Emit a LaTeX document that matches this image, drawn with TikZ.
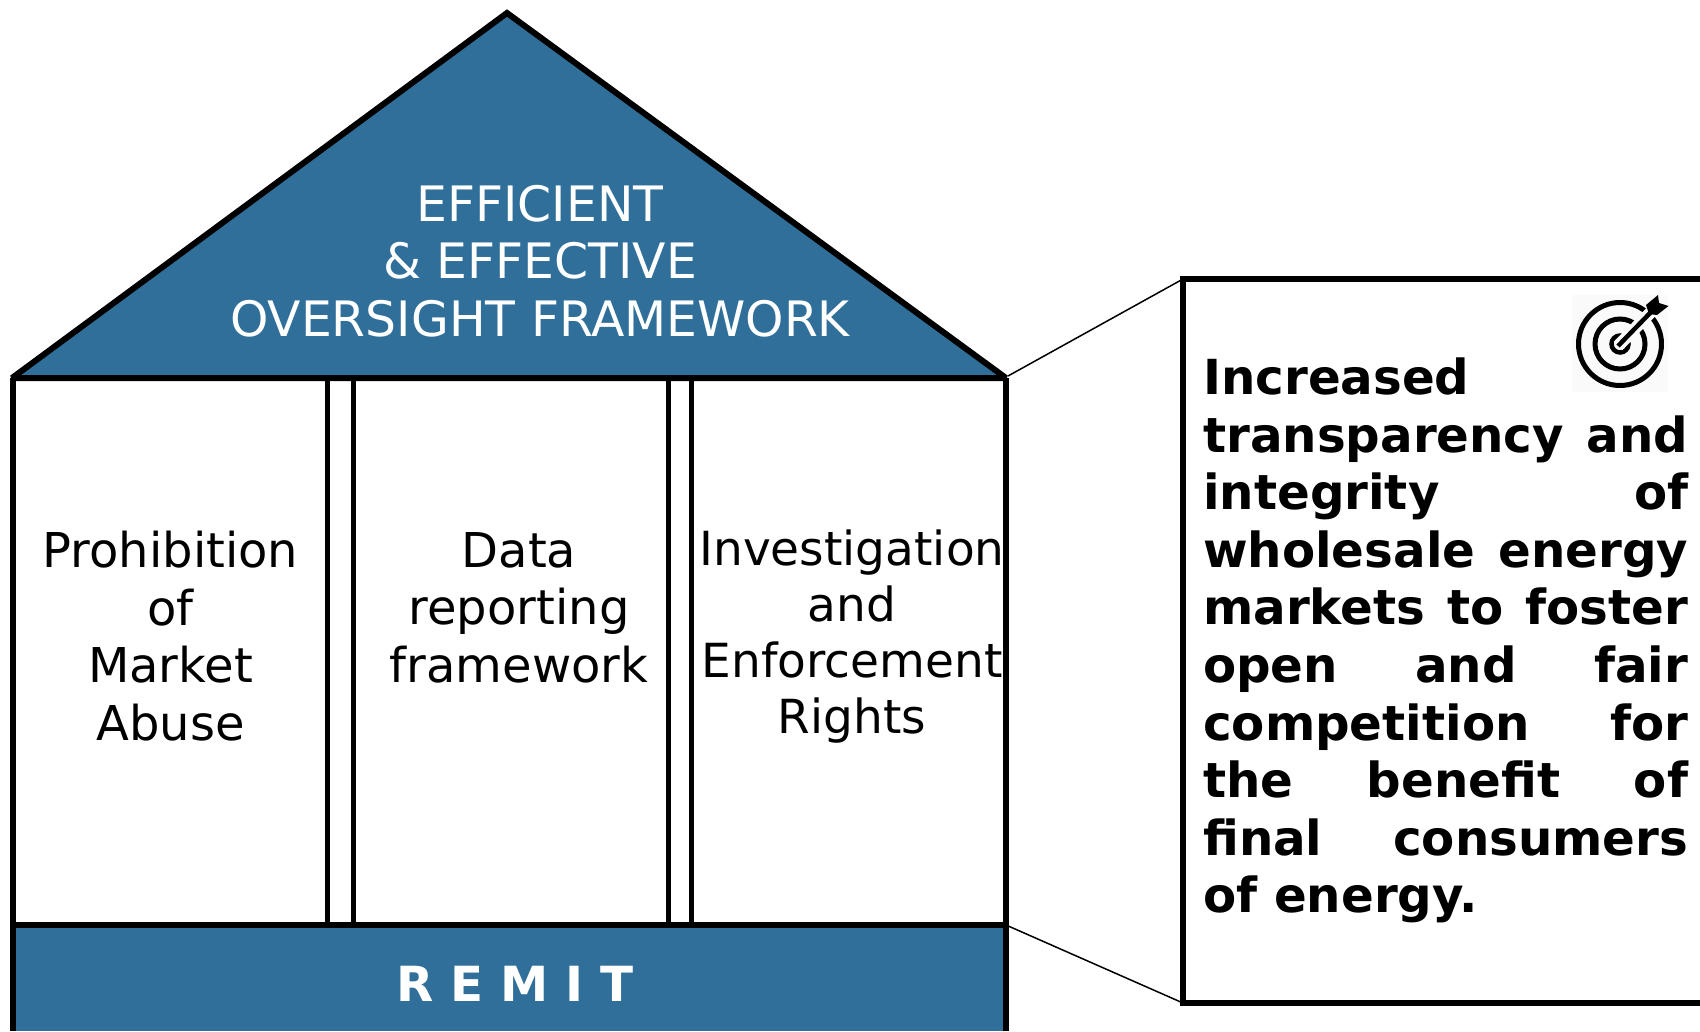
\documentclass[tikz,border=0pt]{standalone}
\usepackage{fontspec}
\setmainfont{DejaVu Sans}
\definecolor{housefill}{RGB}{47,111,153}
\newcommand{\jline}[2]{\hbox to 485pt{\strut #1\hfill #2}}
\tikzset{
  x=1pt,y=-1pt,
  heavy/.style={draw=black,line width=5.5pt,line join=miter},
  thinlink/.style={draw=black,line width=1.5pt},
  bigtext/.style={font=\fontsize{48}{57.6}\selectfont,align=center,inner sep=0pt,text=black},
  rooftext/.style={bigtext,text=white},
  sidetext/.style={inner sep=0pt,text=black}
}
\begin{document}
\begin{tikzpicture}
\useasboundingbox (0,0) rectangle (1700,1031);
\fill[white] (0,0) rectangle (1700,1031);
\coordinate (apex) at (507,13);
\coordinate (roofL) at (12,378);
\coordinate (roofR) at (1006,378);
\coordinate (bandL) at (13,925);
\coordinate (bandR) at (1006,925);
\coordinate (baseL) at (13,1031);
\coordinate (baseR) at (1006,1031);
\coordinate (boxTL) at (1183,279);
\coordinate (boxBL) at (1183,1003);
\coordinate (boxTR) at (1700,279);
\coordinate (boxBR) at (1700,1003);
% band and roof
\fill[housefill] (bandL) rectangle (baseR);
\filldraw[heavy,line width=6pt,miter limit=2,fill=housefill] (roofL) -- (apex) -- (roofR) -- cycle;
% walls
\draw[heavy] (bandL) -- (baseL);
\draw[heavy] (roofL -| bandL) -- (bandL);
\draw[heavy] (roofR) -- (baseR);
\draw[heavy] (bandL) -- (bandR);
\foreach \cx in {327.5,353.5,668.5,691.5}{
  \draw[draw=black,line width=5pt] (\cx,378) -- (\cx,925);
}
% connectors
\draw[thinlink] (roofR) ++(2,-2) -- (boxTL);
\draw[thinlink] (bandR) -- (boxBL);
% callout
\draw[heavy,line width=6pt] (boxTR) -- (boxTL) -- (boxBL) -- (boxBR);
% labels
\node[rooftext,font=\fontsize{48.8}{57.6}\selectfont] (roofLabel) at (540,261) {EFFICIENT\\\& EFFECTIVE\\OVERSIGHT FRAMEWORK};
\node[bigtext] (pillarA) at (170.5,636) {Prohibition\\of\\Market\\Abuse};
\node[bigtext] (pillarB) at (519,607.5) {Data\\reporting\\framework};
\node[bigtext,font=\fontsize{47}{56}\selectfont] (pillarC) at (852,637) {Investigation\\and\\Enforcement\\Rights};
\node[rooftext,font=\fontsize{48.4}{57.6}\selectfont\bfseries] (remit) at (515,984) {R E M I T};
\node[sidetext,anchor=north west,font=\fontsize{48.3}{57.6}\selectfont\bfseries] (sideText) at (1203,354) {\vbox{\hsize=485pt\baselineskip=57.6pt\lineskiplimit=-100pt
\jline{Increased}{}
\jline{transparency}{and}
\jline{integrity}{of}
\jline{wholesale}{energy}
\hbox to 485pt{\strut markets\hfill to\hfill foster}
\hbox to 485pt{\strut open\hfill and\hfill fair}
\jline{competition}{for}
\hbox to 485pt{\strut the\hfill benefit\hfill of}
\jline{final}{consumers}
\hbox to 485pt{\strut of energy.\hfill}}};
% target icon
\fill[black!2] (1572,295) rectangle (1668,392);
\coordinate (tc) at (1620,344);
\coordinate (tip) at (1618,346);
\coordinate (nock) at (1652,311);
\draw[draw=black,line width=5pt] (tc) circle[radius=41.5];
\draw[draw=black,line width=5pt] (tc) circle[radius=25];
\draw[draw=black,line width=4.5pt] (tc) circle[radius=8.5];
\draw[draw=black!2,line width=12pt] (tip) -- (nock);
\draw[draw=black,line width=4.5pt] (tip) -- (nock);
\fill[black] (1658,295) -- (1659,303) -- (1668.5,306) -- (1657,315) -- (1649,314) -- (1646,305) -- cycle;
\end{tikzpicture}
\end{document}
